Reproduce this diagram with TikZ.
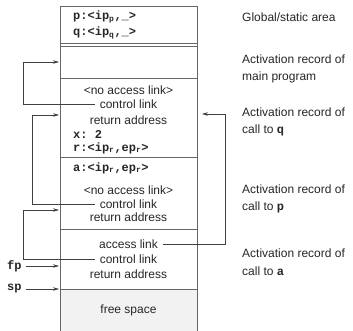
\documentclass[tikz,border=0pt]{standalone}
\usepackage{fontspec}
\setmainfont{Liberation Sans}
\setmonofont{Liberation Mono}
\usetikzlibrary{arrows.meta}
\tikzset{
    rec/.style={draw=black!60, line width=0.6pt},
    txt/.style={inner ysep=2pt, inner xsep=5pt, text=black!85, font=\fontsize{12}{14}\selectfont},
    code/.style={inner sep=1pt, anchor=west, text=black!85, font=\fontsize{12}{14}\ttfamily\bfseries},
    lbl/.style={anchor=west, align=left, inner sep=0pt, text=black!85, font=\fontsize{12}{17.5}\selectfont},
    link/.style={draw=black!75, line width=0.6pt, -{Stealth[length=6pt, width=3.5pt]}},
}

\begin{document}
\begin{tikzpicture}[x=1pt, y=-1pt]
    \useasboundingbox (0,0) rectangle (353,331);
    % free space
    \fill[black!5] (60,289) rectangle (197,331);
    % stack
    \draw[rec] (60,331) -- (60,6) -- (197,6) -- (197,331);
    \draw[rec] (60,43) -- (197,43);
    \draw[rec] (60,46) -- (197,46);
    \draw[rec] (60,78) -- (197,78);
    \draw[rec] (60,157.5) -- (197,157.5);
    \draw[rec] (60,229) -- (197,229);
    \draw[rec] (60,289) -- (197,289);
    % global/static area
    \node[code] (gp) at (72,17) {p:<ip\textsubscript{p},\_>};
    \node[code] (gq) at (72,33) {q:<ip\textsubscript{q},\_>};
    % call to q
    \node[txt] (nalq) at (128.5,90) {<no access link>};
    \node[txt] (clq) at (128.5,104) {control link};
    \node[txt] (raq) at (128.5,120) {return address};
    \node[code] (xq) at (72,134) {x: 2};
    \node[code] (rq) at (72,148) {r:<ip\textsubscript{r},ep\textsubscript{r}>};
    % call to p
    \node[code] (ap) at (72,168) {a:<ip\textsubscript{r},ep\textsubscript{r}>};
    \node[txt] (nalp) at (128.5,190) {<no access link>};
    \node[txt] (clp) at (128.5,204) {control link};
    \node[txt] (rap) at (128.5,217) {return address};
    % call to a
    \node[txt] (ala) at (128.5,244) {access link};
    \node[txt] (cla) at (128.5,259) {control link};
    \node[txt] (raa) at (128.5,274) {return address};
    \node[txt] (free) at (128.5,310) {free space};
    % pointers
    \node[code] (fp) at (6,266) {fp};
    \node[code] (sp) at (6,289) {sp};
    \coordinate (fpin) at (59,266);
    \coordinate (spin) at (59,289);
    \coordinate (mainin) at (59,62);
    \coordinate (qin) at (59,115);
    \coordinate (pin) at (59,210);
    \coordinate (qright) at (202,114);
    % links
    \draw[link] (clq.west) -| (23,62) -- (mainin);
    \draw[link] (clp.west) -| (32,115) -- (qin);
    \draw[link] (cla.west) -| (23,210) -- (pin);
    \draw[link] (ala.east) -| (225,114) -- (qright);
    \draw[link] (fp.east) ++(3,0) -- (fpin);
    \draw[link] (sp.east) ++(3,0) -- (spin);
    % labels
    \node[lbl] (glob) at (242,17) {Global/static area};
    \node[lbl] (armain) at (242,69) {Activation record of\\main program};
    \node[lbl] (arq) at (242,122) {Activation record of\\call to {\ttfamily\bfseries q}};
    \node[lbl] (arp) at (242,199) {Activation record of\\call to {\ttfamily\bfseries p}};
    \node[lbl] (ara) at (242,262) {Activation record of\\call to {\ttfamily\bfseries a}};
\end{tikzpicture}
\end{document}
